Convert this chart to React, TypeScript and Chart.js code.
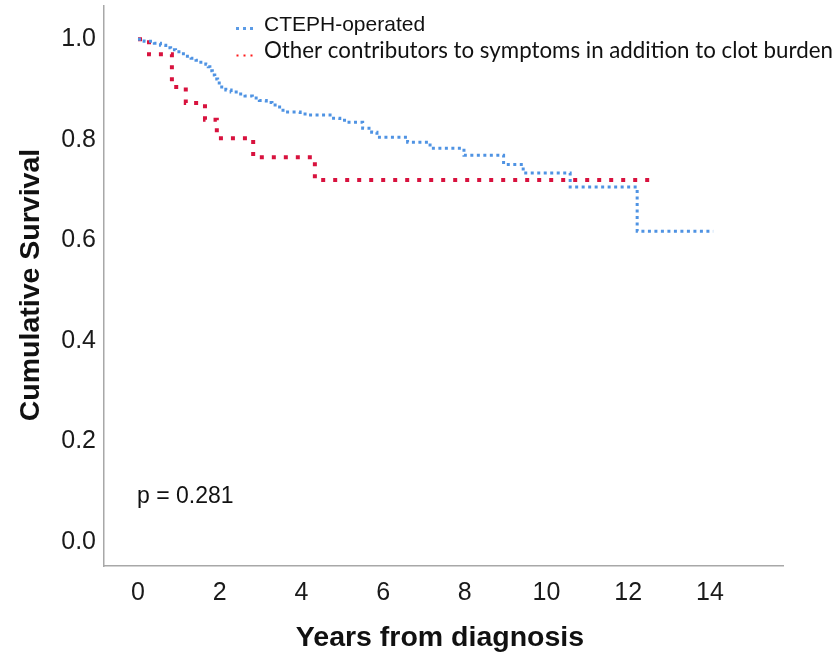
import { useEffect, useRef } from 'react';
import { Chart, registerables } from 'chart.js';

Chart.register(...registerables);

// Axis ticks
const xTicks = [0, 2, 4, 6, 8, 10, 12, 14];
const yTicks = [0, 0.2, 0.4, 0.6, 0.8, 1.0];

// Kaplan-Meier steps: time of each drop (years) and survival after it
const operatedTimes = [
  0, 0.15, 0.4, 0.55, 0.68, 0.8, 0.92, 1.05, 1.17, 1.3, 1.42, 1.5, 1.66, 1.72, 1.76, 1.82,
  1.88, 1.95, 2.05, 2.15, 2.28, 2.45, 2.62, 2.8, 2.97, 3.14, 3.28, 3.42, 3.55, 3.97, 4.14,
  4.75, 4.94, 5.12, 5.5, 5.72, 5.85, 6.6, 7.15, 7.98, 8.95, 9.43, 10.58, 12.22, 14.08,
];
const operatedSurvival = [
  1.0, 0.996, 0.992, 0.988, 0.983, 0.979, 0.975, 0.971, 0.966, 0.962, 0.958, 0.954, 0.95, 0.945,
  0.937, 0.929, 0.921, 0.913, 0.905, 0.899, 0.895, 0.891, 0.887, 0.883, 0.878, 0.874, 0.869,
  0.865, 0.855, 0.851, 0.849, 0.843, 0.839, 0.835, 0.823, 0.815, 0.805, 0.795, 0.783, 0.769,
  0.751, 0.734, 0.706, 0.618, 0.618,
];

const otherTimes = [0, 0.27, 0.83, 1.17, 1.64, 1.93, 2.82, 4.33, 12.53];
const otherSurvival = [1.0, 0.97, 0.905, 0.873, 0.84, 0.803, 0.765, 0.72, 0.72];

const seriesLabels = [
  'CTEPH-operated',
  'Other contributors to symptoms in addition to clot burden',
];
const seriesColors = ['#4f93e3', '#d8123e'];
const legendDotColors = ['#5b9be6', '#ff1a1a'];

const pValueText = 'p = 0.281';
const xTitle = 'Years from diagnosis';
const yTitle = 'Cumulative Survival';

const ARIAL = "'Liberation Sans', Arial, sans-serif";

const toPoints = (xs: number[], ys: number[]) => xs.map((x, i) => ({ x, y: ys[i] }));

const annotations = {
  id: 'kmAnnotations',
  afterDraw(chart: Chart) {
    const ctx = chart.ctx;
    ctx.save();

    // Legend: dotted markers and labels
    const dotXs = [236, 243, 250];
    dotXs.forEach((x) => {
      ctx.fillStyle = legendDotColors[0];
      ctx.fillRect(x, 27, 3, 3);
      ctx.fillStyle = legendDotColors[1];
      ctx.fillRect(x + 0.5, 54.5, 2, 2);
    });

    ctx.fillStyle = '#111';
    ctx.textBaseline = 'alphabetic';
    ctx.textAlign = 'left';
    ctx.font = `21px ${ARIAL}`;
    ctx.fillText(seriesLabels[0], 264, 31);

    // second label in a Calibri-like face, fitted to its line
    let size = 22;
    ctx.font = `${size}px Lato, 'Open Sans', sans-serif`;
    const w = ctx.measureText(seriesLabels[1]).width;
    size = size * (569 / w);
    ctx.font = `${size}px Lato, 'Open Sans', sans-serif`;
    ctx.fillText(seriesLabels[1], 264, 58);

    // p-value
    ctx.font = `23px ${ARIAL}`;
    ctx.textBaseline = 'middle';
    ctx.fillText(pValueText, 137, 497);

    // Axis titles
    ctx.font = `bold 28.5px ${ARIAL}`;
    ctx.textAlign = 'center';
    ctx.textBaseline = 'alphabetic';
    ctx.fillText(xTitle, 440, 646);

    ctx.translate(39, 285);
    ctx.rotate(-Math.PI / 2);
    ctx.fillText(yTitle, 0, 0);

    ctx.restore();
  },
};

export default function App() {
  const canvasRef = useRef<HTMLCanvasElement | null>(null);

  useEffect(() => {
    const canvas = canvasRef.current;
    if (!canvas) return;

    const chart = new Chart(canvas, {
      type: 'line',
      data: {
        datasets: [
          {
            label: seriesLabels[0],
            data: toPoints(operatedTimes, operatedSurvival),
            borderColor: seriesColors[0],
            borderWidth: 3,
            borderDash: [3, 3.5],
            borderCapStyle: 'butt',
            stepped: 'before',
            pointRadius: 0,
            fill: false,
          },
          {
            label: seriesLabels[1],
            data: toPoints(otherTimes, otherSurvival),
            borderColor: seriesColors[1],
            borderWidth: 4,
            borderDash: [4, 8],
            borderCapStyle: 'butt',
            stepped: 'before',
            pointRadius: 0,
            fill: false,
          },
        ],
      },
      options: {
        responsive: false,
        animation: false,
        layout: { padding: { top: 6, right: 54, left: 0, bottom: 0 } },
        plugins: {
          legend: { display: false },
          tooltip: { enabled: false },
          title: { display: false },
        },
        scales: {
          x: {
            type: 'linear',
            min: -0.832,
            max: 15.79,
            afterBuildTicks: (scale: any) => {
              scale.ticks = xTicks.map((value) => ({ value }));
            },
            afterFit: (scale: any) => {
              scale.height = 91;
              scale.paddingLeft = 0;
              scale.paddingRight = 0;
            },
            grid: { display: true, color: 'rgba(0,0,0,0)', drawTicks: false },
            border: { display: true, color: '#a8a8a8', width: 1.5 },
            ticks: {
              autoSkip: false,
              maxRotation: 0,
              padding: 12,
              color: '#1a1a1a',
              font: { family: ARIAL, size: 25 },
              callback: (v: any) => String(v),
            },
          },
          y: {
            type: 'linear',
            min: -0.0477,
            max: 1.066,
            afterBuildTicks: (scale: any) => {
              scale.ticks = yTicks.map((value) => ({ value }));
            },
            afterFit: (scale: any) => {
              scale.width = 104;
              scale.paddingTop = 0;
              scale.paddingBottom = 0;
            },
            grid: { display: true, color: 'rgba(0,0,0,0)', drawTicks: false },
            border: { display: true, color: '#a8a8a8', width: 1.5 },
            ticks: {
              autoSkip: false,
              padding: 8,
              color: '#1a1a1a',
              font: { family: ARIAL, size: 25 },
              callback: (v: any) => Number(v).toFixed(1),
            },
          },
        },
      },
      plugins: [annotations],
    });

    return () => chart.destroy();
  }, []);

  return (
    <div style={{ position: 'absolute', left: 0, top: 0, width: 837, height: 657, background: '#fff' }}>
      <canvas ref={canvasRef} width={837} height={657} />
    </div>
  );
}
